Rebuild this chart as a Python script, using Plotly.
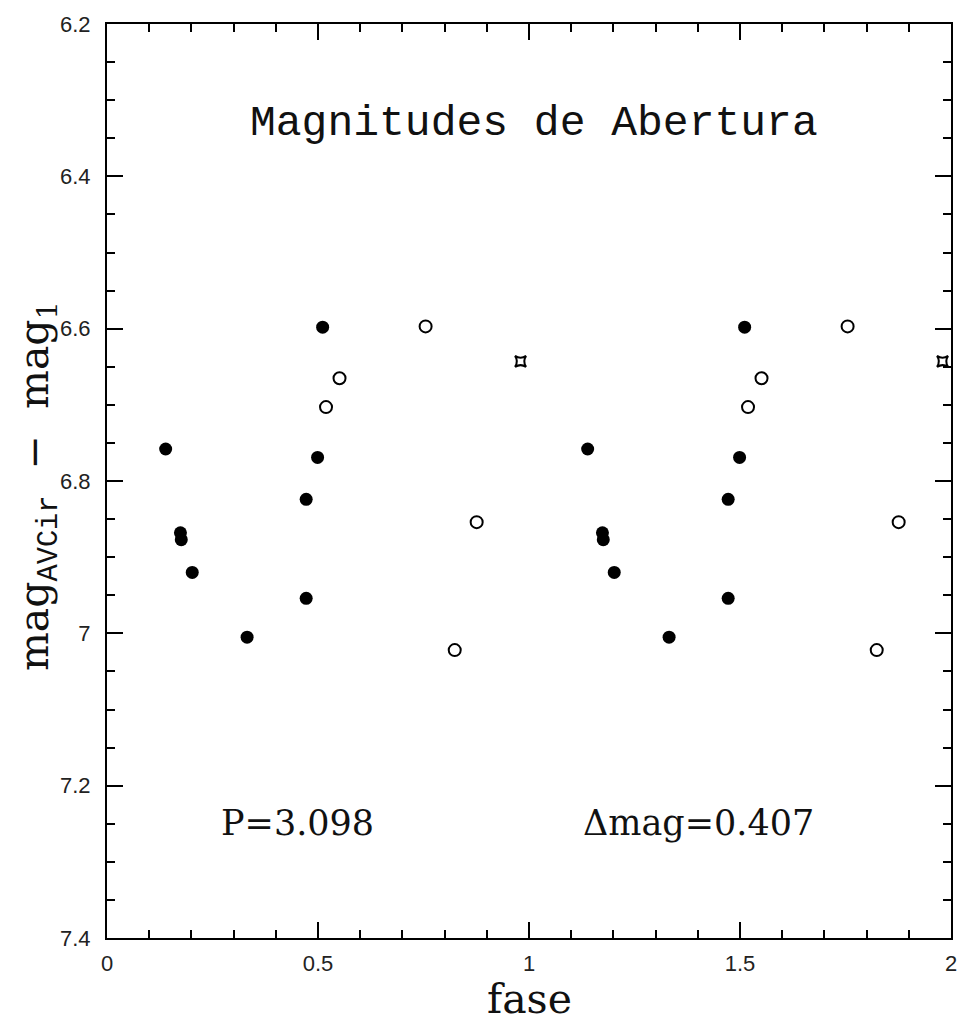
import plotly.graph_objects as go

# Filled circles (phase, magnitude difference)
filled_phase = [0.139, 0.174, 0.176, 0.202, 0.332, 0.472, 0.472, 0.499, 0.511,
                1.139, 1.174, 1.176, 1.202, 1.332, 1.472, 1.472, 1.499, 1.511]
filled_mag = [6.758, 6.868, 6.877, 6.920, 7.005, 6.954, 6.824, 6.769, 6.598,
              6.758, 6.868, 6.877, 6.920, 7.005, 6.954, 6.824, 6.769, 6.598]

# Open circles
open_phase = [0.519, 0.551, 0.755, 0.824, 0.876,
              1.519, 1.551, 1.755, 1.824, 1.876]
open_mag = [6.703, 6.665, 6.597, 7.022, 6.854,
            6.703, 6.665, 6.597, 7.022, 6.854]

# Star-square points
star_phase = [0.980, 1.980]
star_mag = [6.643, 6.643]

y_tickvals = [6.2, 6.4, 6.6, 6.8, 7.0, 7.2, 7.4]
y_ticktext = ["6.2", "6.4", "6.6", "6.8", "7", "7.2", "7.4"]
x_tickvals = [0, 0.5, 1, 1.5, 2]
x_ticktext = ["0", "0.5", "1", "1.5", "2"]

fig = go.Figure()
fig.add_trace(go.Scatter(x=filled_phase, y=filled_mag, mode="markers",
                         marker=dict(symbol="circle", size=13, color="black"),
                         showlegend=False))
fig.add_trace(go.Scatter(x=open_phase, y=open_mag, mode="markers",
                         marker=dict(symbol="circle-open", size=12, color="black",
                                     line=dict(width=2, color="black")),
                         showlegend=False))
fig.add_trace(go.Scatter(x=star_phase, y=star_mag, mode="markers",
                         marker=dict(symbol="star-square-open", size=10, color="black",
                                     line=dict(width=2, color="black")),
                         showlegend=False))

axis_common = dict(showline=True, linecolor="black", linewidth=2, mirror="allticks",
                   ticks="inside", tickcolor="black", tickwidth=2, showgrid=False,
                   zeroline=False,
                   tickfont=dict(family="Liberation Sans, Arial, sans-serif", size=22, color="#222"))

fig.update_xaxes(range=[0, 2], tickvals=x_tickvals, ticktext=x_ticktext, ticklen=16,
                 ticklabelstandoff=5,
                 minor=dict(dtick=0.1, ticks="inside", ticklen=8, tickwidth=2, tickcolor="black"),
                 **axis_common)
fig.update_yaxes(range=[7.4, 6.2], tickvals=y_tickvals, ticktext=y_ticktext, ticklen=16,
                 ticklabelstandoff=10,
                 minor=dict(dtick=0.05, ticks="inside", ticklen=8, tickwidth=2, tickcolor="black"),
                 **axis_common)

serif = "DejaVu Serif, serif"
mono = "Liberation Mono, Courier New, monospace"
annotations = [
    dict(text="Magnitudes de Abertura", x=0.506, y=0.891, font=dict(family=mono, size=43, color="#111")),
    dict(text="P=3.098", x=0.226, y=0.126, font=dict(family=serif, size=35, color="#111")),
    dict(text="Δmag=0.407", x=0.701, y=0.126, font=dict(family=serif, size=35, color="#111")),
    dict(text="fase", x=0.501, y=-0.067, font=dict(family=serif, size=41, color="#111")),
    dict(text="mag<sub><span style=\"font-family:Liberation Mono\">AVCir</span></sub>  −  mag<sub>1</sub>",
         x=-0.081, y=0.494, textangle=-90,
         font=dict(family=serif, size=41, color="#111")),
]
for a in annotations:
    a.update(xref="paper", yref="paper", showarrow=False, xanchor="center", yanchor="middle")

fig.update_layout(width=969, height=1023, margin=dict(l=107, r=12, t=15, b=85),
                  plot_bgcolor="white", paper_bgcolor="white", annotations=annotations)

fig.write_html("out.html")
